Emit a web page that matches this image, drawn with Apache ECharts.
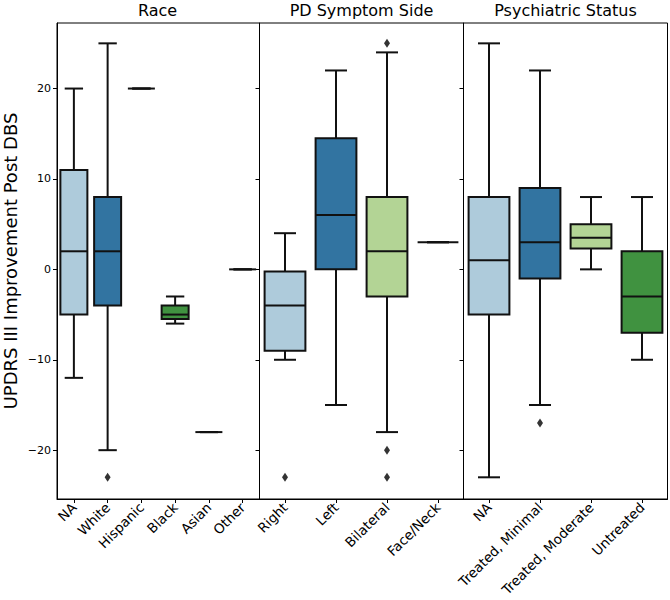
<!DOCTYPE html>
<html>
<head>
<meta charset="utf-8">
<script src="https://cdn.jsdelivr.net/npm/echarts@6/dist/echarts.min.js"></script>
<style>html,body{margin:0;padding:0;background:#fff}#c{width:670px;height:600px}</style>
</head>
<body>
<div id="c"></div>
<script>
// ---- data ----
const panelTitles = ['Race', 'PD Symptom Side', 'Psychiatric Status'];
const yTicks = [-20, -10, 0, 10, 20];

const raceCats = ['NA', 'White', 'Hispanic', 'Black', 'Asian', 'Other'];
// [min, q1, median, q3, max]
const raceBoxes = [
  [-12, -5, 2, 11, 20],
  [-20, -4, 2, 8, 25],
  [20, 20, 20, 20, 20],
  [-6, -5.5, -5, -4, -3],
  [-18, -18, -18, -18, -18],
  [0, 0, 0, 0, 0]
];
const raceOutliers = [['White', -23]];

const sideCats = ['Right', 'Left', 'Bilateral', 'Face/Neck'];
const sideBoxes = [
  [-10, -9, -4, -0.25, 4],
  [-15, 0, 6, 14.5, 22],
  [-18, -3, 2, 8, 24],
  [3, 3, 3, 3, 3]
];
const sideOutliers = [['Right', -23], ['Bilateral', 25], ['Bilateral', -20], ['Bilateral', -23]];

const psychCats = ['NA', 'Treated, Minimal', 'Treated, Moderate', 'Untreated'];
const psychBoxes = [
  [-23, -5, 1, 8, 25],
  [-15, -1, 3, 9, 22],
  [0, 2.3, 3.5, 5, 8],
  [-10, -7, -3, 2, 8]
];
const psychOutliers = [['Treated, Minimal', -17]];

// ---- styling ----
const palette = ['#aecbdb', '#3274a1', '#b3d495', '#409240', '#f0a6a5', '#c8383a'];
const FONT = 'DejaVu Sans';
const EDGE = '#111111';

const panels = [
  {cats: raceCats, boxes: raceBoxes, outliers: raceOutliers, capRatio: 0.68},
  {cats: sideCats, boxes: sideBoxes, outliers: sideOutliers, capRatio: 0.54},
  {cats: psychCats, boxes: psychBoxes, outliers: psychOutliers, capRatio: 0.54}
];

const gridLefts = [55.5, 259.5, 463.5];
const gridW = 204;
const gridTop = 23;
const gridBottom = 101;

function makeRender(capRatio) {
  return function (params, api) {
    const x = api.value(0);
    const lo = api.coord([x, api.value(1)]);
    const q1 = api.coord([x, api.value(2)]);
    const md = api.coord([x, api.value(3)]);
    const q3 = api.coord([x, api.value(4)]);
    const hi = api.coord([x, api.value(5)]);
    const bw = api.size([1, 0])[0] * 0.8;
    const cw = bw * capRatio;
    const cx = lo[0];
    const color = palette[params.dataIndex % palette.length];
    const ls = {stroke: EDGE, lineWidth: 2, fill: null};
    const kids = [
      {type: 'line', shape: {x1: cx, y1: q3[1], x2: cx, y2: hi[1]}, style: ls},
      {type: 'line', shape: {x1: cx - cw / 2, y1: hi[1], x2: cx + cw / 2, y2: hi[1]}, style: ls},
      {type: 'line', shape: {x1: cx, y1: q1[1], x2: cx, y2: lo[1]}, style: ls},
      {type: 'line', shape: {x1: cx - cw / 2, y1: lo[1], x2: cx + cw / 2, y2: lo[1]}, style: ls}
    ];
    if (q1[1] - q3[1] > 0.5) {
      kids.push({type: 'rect', shape: {x: cx - bw / 2, y: q3[1], width: bw, height: q1[1] - q3[1]},
        style: {fill: color, stroke: EDGE, lineWidth: 2}});
    }
    kids.push({type: 'line', shape: {x1: cx - bw / 2, y1: md[1], x2: cx + bw / 2, y2: md[1]}, style: ls});
    return {type: 'group', children: kids};
  };
}

const grids = [], xAxes = [], yAxes = [], series = [], graphics = [];
panels.forEach((p, i) => {
  grids.push({
    left: gridLefts[i], width: gridW, top: gridTop, bottom: gridBottom,
    show: true, borderColor: '#000', borderWidth: 1, backgroundColor: 'transparent'
  });
  xAxes.push({
    type: 'category', gridIndex: i, data: p.cats, boundaryGap: true,
    axisLine: {show: true, onZero: false, lineStyle: {color: '#000', width: 1}},
    axisTick: {show: true, alignWithLabel: true, length: 4, lineStyle: {color: '#000', width: 1}},
    axisLabel: {rotate: 45, interval: 0, margin: 6, color: '#000', fontFamily: FONT, fontSize: 13.5},
    splitLine: {show: false}
  });
  const y = {
    type: 'value', gridIndex: i, min: -25.4, max: 27.25,
    axisLine: {show: true, lineStyle: {color: '#000', width: 1}},
    axisTick: {show: true, length: 4, customValues: yTicks, lineStyle: {color: '#000', width: 1}},
    axisLabel: {show: i === 0, customValues: yTicks, margin: 6, color: '#000', fontFamily: FONT, fontSize: 11,
      formatter: v => String(v).replace('-', '\u2212')},
    splitLine: {show: false}
  };
  if (i === 0) {
    y.name = 'UPDRS III Improvement Post DBS';
    y.nameLocation = 'middle';
    y.nameGap = 38;
    y.nameRotate = 90;
    y.nameTextStyle = {color: '#000', fontFamily: FONT, fontSize: 18};
  }
  yAxes.push(y);
  series.push({
    type: 'custom', xAxisIndex: i, yAxisIndex: i,
    renderItem: makeRender(p.capRatio),
    encode: {x: 0, y: [1, 2, 3, 4, 5]},
    data: p.boxes.map((b, k) => [k].concat(b)),
    z: 2
  });
  series.push({
    type: 'scatter', xAxisIndex: i, yAxisIndex: i,
    data: p.outliers, symbol: 'diamond', symbolSize: [6, 9],
    itemStyle: {color: '#000'}, z: 3, silent: true
  });
  graphics.push({
    type: 'text', x: gridLefts[i] + gridW / 2, y: 10,
    style: {text: panelTitles[i], fontFamily: FONT, fontSize: 16, fill: '#000',
      textAlign: 'center', textVerticalAlign: 'middle'}
  });
});

const chart = echarts.init(document.getElementById('c'), null, {renderer: 'svg'});
chart.setOption({
  animation: false,
  backgroundColor: '#fff',
  grid: grids, xAxis: xAxes, yAxis: yAxes, series: series, graphic: graphics
});
</script>
</body>
</html>
